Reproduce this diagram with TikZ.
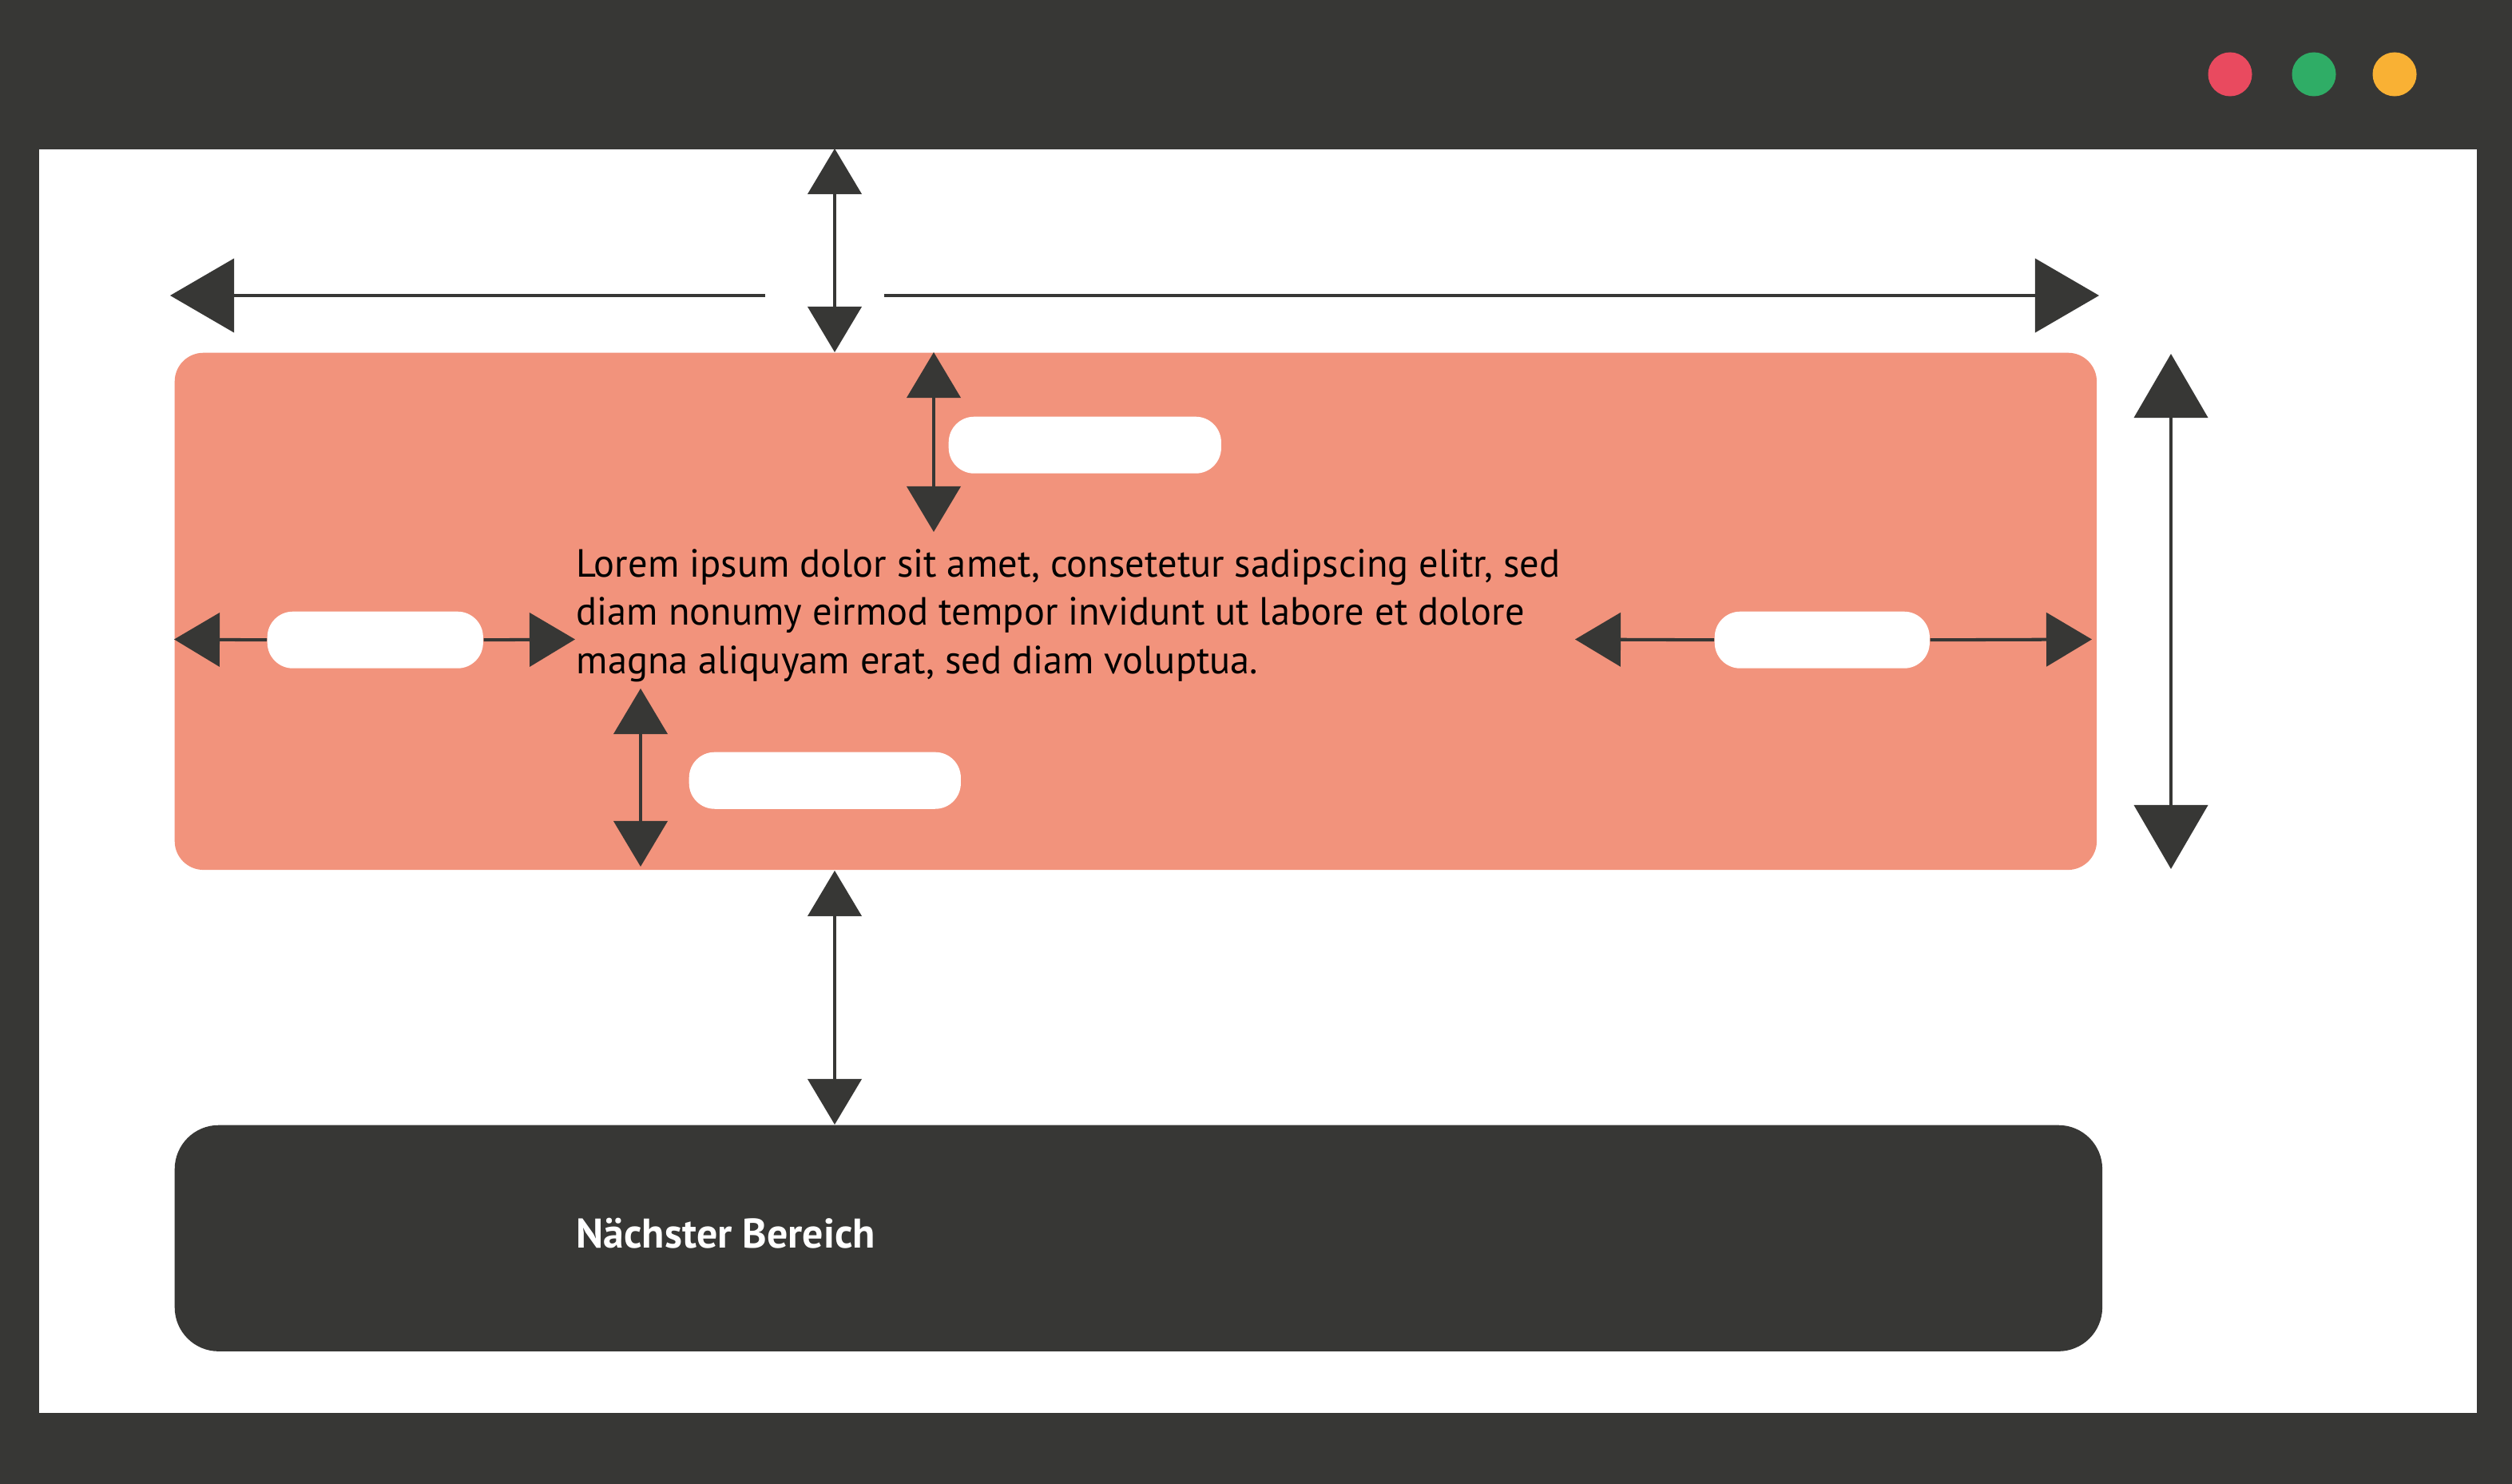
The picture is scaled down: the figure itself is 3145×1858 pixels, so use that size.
\documentclass[tikz,border=0pt]{standalone}
\usepackage{fontspec}
\setmainfont{PT Sans}
\newfontfamily\bodyfont[FakeStretch=0.985]{PT Sans}
\usetikzlibrary{arrows.meta}
\definecolor{dark}{RGB}{55,55,53}
\definecolor{salmon}{RGB}{242,147,124}
\definecolor{dotred}{RGB}{233,74,95}
\definecolor{dotgreen}{RGB}{47,173,102}
\definecolor{dotorange}{RGB}{249,177,52}
\tikzset{
  box/.style={rectangle, anchor=north west, inner sep=0pt, draw=none},
  pill/.style={box, fill=white, rounded corners=0.32cm, minimum height=0.71cm},
  dot/.style={circle, inner sep=0pt, minimum size=0.55cm},
  bigarr/.style={draw=dark, line width=1.15pt, -{Triangle[length=0.8cm,width=0.92cm]}},
  bigdbl/.style={draw=dark, line width=1.15pt, {Triangle[length=0.8cm,width=0.92cm]}-{Triangle[length=0.8cm,width=0.92cm]}},
  smarr/.style={draw=dark, line width=1.15pt, -{Triangle[length=0.57cm,width=0.67cm]}},
  smdbl/.style={draw=dark, line width=1.15pt, {Triangle[length=0.57cm,width=0.67cm]}-{Triangle[length=0.57cm,width=0.67cm]}},
}
\begin{document}
\begin{tikzpicture}[x=0.01cm, y=-0.01cm]
\fill[dark] (0,0) rectangle (3145,1858);
\useasboundingbox (0,0) rectangle (3145,1858);
% window
\node[box, fill=white, minimum width=30.50cm, minimum height=15.81cm] (win) at (48,186) {};
\node[dot, fill=dotred] (d1) at (2792,93) {};
\node[dot, fill=dotgreen] (d2) at (2897,93) {};
\node[dot, fill=dotorange] (d3) at (2998,93) {};
% boxes
\node[box, fill=salmon, rounded corners=0.36cm, minimum width=24.05cm, minimum height=6.47cm] (hero) at (218,441) {};
\node[box, fill=dark, rounded corners=0.55cm, minimum width=24.12cm, minimum height=2.83cm] (next) at (218,1408) {};
% pills
\node[pill, minimum width=3.41cm] (p1) at (1187,521) {};
\node[pill, minimum width=2.70cm] (p2) at (334,765) {};
\node[pill, minimum width=3.40cm] (p3) at (862,941) {};
\node[pill, minimum width=2.69cm] (p4) at (2146,765) {};
% texts
\node[anchor=base west, inner sep=0pt, align=left, font=\bodyfont\fontsize{14pt}{17.1pt}\selectfont] (lorem) at (721,843)
 {Lorem ipsum dolor sit amet, consetetur sadipscing elitr, sed\\diam nonumy eirmod tempor invidunt ut labore et dolore\\magna aliquyam erat, sed diam voluptua.};
\node[anchor=base west, inner sep=0pt, text=white, font=\bfseries\fontsize{14.75pt}{17pt}\selectfont] (nb) at (721,1562) {Nächster Bereich};
% coordinates
\coordinate (tl0) at (958,370);
\coordinate (tl1) at (213,370);
\coordinate (tr0) at (1107,370);
\coordinate (tr1) at (2628,370);
\coordinate (tv0) at (1045,186);
\coordinate (tv1) at (1045,441);
\coordinate (rv0) at (2718,443);
\coordinate (rv1) at (2718,1088);
\coordinate (iv0) at (1169,441);
\coordinate (iv1) at (1169,666);
\coordinate (lv0) at (802,862);
\coordinate (lv1) at (802,1085);
\coordinate (bv0) at (1045,1090);
\coordinate (bv1) at (1045,1408);
\coordinate (la) at (218,800.5);
\coordinate (lb) at (720,800.5);
\coordinate (ra) at (1972,800.5);
\coordinate (rb) at (2619,800.5);
% arrows
\draw[bigarr] (tl0) -- (tl1);
\draw[bigarr] (tr0) -- (tr1);
\draw[smdbl] (tv0) -- (tv1);
\draw[bigdbl] (rv0) -- (rv1);
\draw[smdbl] (iv0) -- (iv1);
\draw[smdbl] (lv0) -- (lv1);
\draw[smdbl] (bv0) -- (bv1);
\draw[smarr] (p2.west) -- (la);
\draw[smarr] (p2.east) -- (lb);
\draw[smarr] (p4.west) -- (ra);
\draw[smarr] (p4.east) -- (rb);
\end{tikzpicture}
\end{document}
